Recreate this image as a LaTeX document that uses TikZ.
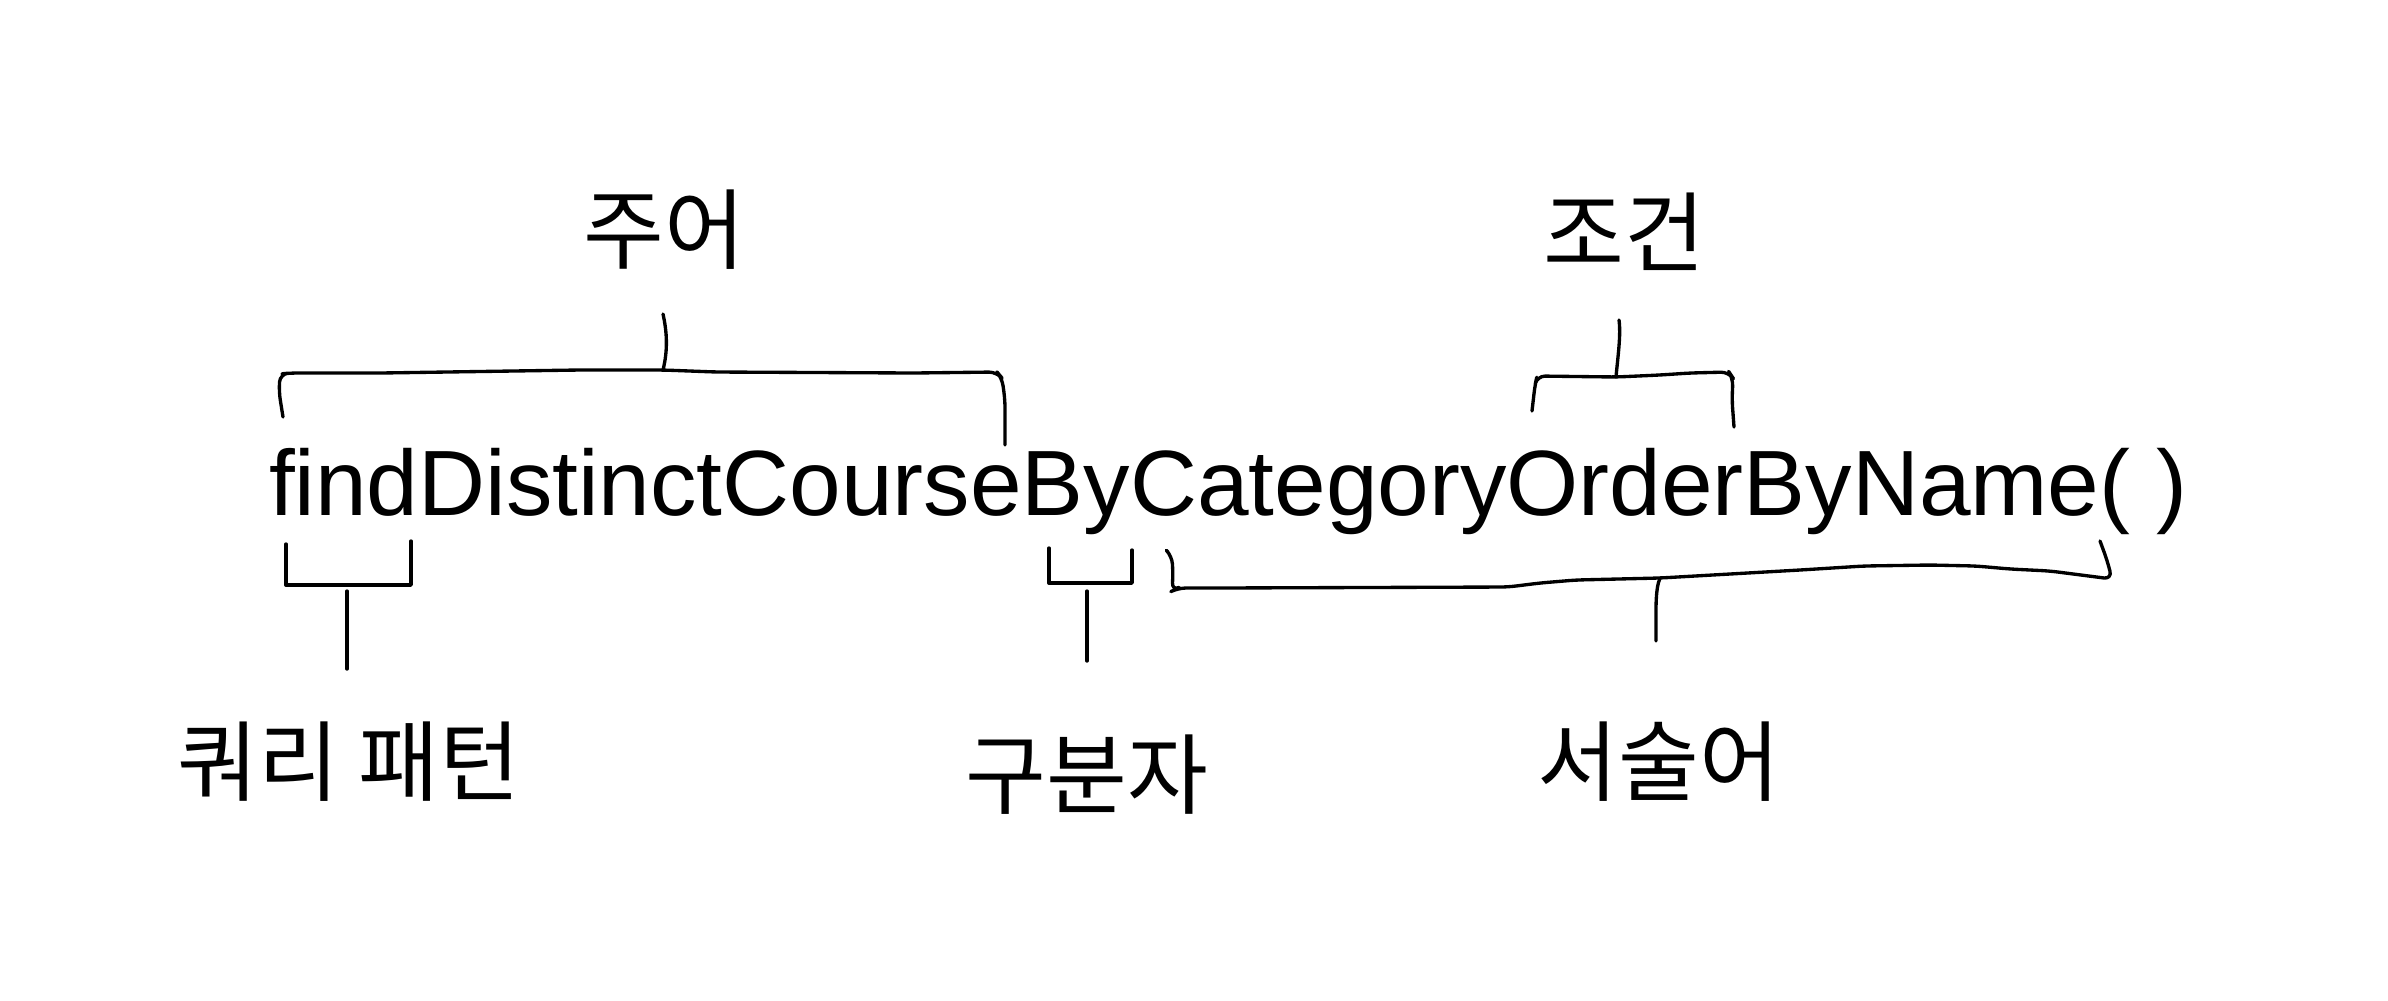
\documentclass[tikz,border=0pt]{standalone}
\usepackage{fontspec}
\setmainfont{Liberation Sans}
\newfontfamily\krfont{Noto Sans CJK KR}
\usetikzlibrary{calc,positioning}

\begin{document}
\begin{tikzpicture}[x=0.1mm,y=-0.1mm,
 word/.style={inner sep=0pt,outer sep=0pt,anchor=base west,
   font=\fontsize{26.4}{30}\selectfont},
 tag/.style={inner sep=0pt,font=\krfont\fontsize{25}{30}\selectfont},
 sketch/.style={draw=black,line width=.95pt,line cap=round,
   line join=round,rounded corners=.8mm},
 stem/.style={draw=black,line width=.95pt,line cap=round}
]
\useasboundingbox (0,0) rectangle (2388,1000);

% the method name, one node per part
\node[word] (find) at (269,515) {find};
\node[word] (distinct) at (find.base east) {DistinctCourse};
\node[word] (by) at (distinct.base east) {By};
\node[word] (category) at (by.base east) {Category};
\node[word] (order) at (category.base east) {Order};
\node[word] (name) at (order.base east) {ByName( )};

% labels
\node[tag] (subject) at (664,230) {주어};
\node[tag] (condition) at (1624,232) {조건};
\node[tag] (pattern) at (349,762) {쿼리 패턴};
\node[tag] (separator) at (1087,775) {구분자};
\node[tag] (predicate) at (1659,762) {서술어};

% brace over the subject
\coordinate (subjectmid) at (663,370);
\coordinate (subjecttip) at (663,314);
\draw[sketch] (283,417) -- (279,392) -- (280,374) -- (290,373)
 -- (381,373) -- (579,370) -- (subjectmid) -- (716,372) -- (914,373)
 -- (997,372) -- (1002,378) -- (1005,400) -- (1005,445);
\draw[stem] (subjectmid) .. controls (668,350) and (667,332) .. (subjecttip);

% brace over the condition
\coordinate (conditionmid) at (1616,377);
\coordinate (conditiontip) at (1619,320);
\draw[sketch] (1532,411) -- (1535,385) -- (1537,376) -- (conditionmid)
 -- (1660,375) -- (1690,373) -- (1729,372) -- (1733,378) -- (1732,400)
 -- (1734,427);
\draw[stem] (conditionmid) .. controls (1618,355) and (1621,335) .. (conditiontip);

% bracket under the query pattern
\coordinate (patternmid) at (347,591);
\coordinate (patterntip) at (347,669);
\draw[sketch,rounded corners=0pt] (286,544) -- (286,585) -- (411,585) -- (411,541);
\draw[stem] (patternmid) -- (patterntip);

% bracket under the separator
\coordinate (separatormid) at (1087,591);
\coordinate (separatortip) at (1087,661);
\draw[sketch,rounded corners=0pt] (1049,548) -- (1049,583) -- (1132,583) -- (1132,550);
\draw[stem] (separatormid) -- (separatortip);

% brace under the predicate
\coordinate (predicatemid) at (1660,578);
\coordinate (predicatetip) at (1656,641);
\draw[sketch] (1168,552) -- (1172,556) -- (1173,575) -- (1172,591)
 -- (1178,588) -- (1218,588) -- (1508,587) -- (1540,583) -- (1576,580)
 -- (predicatemid) -- (1800,570) -- (1864,566) -- (1930,565)
 -- (1976,566) -- (2010,569) -- (2050,571) -- (2112,579)
 -- (2107,560) -- (2100,541);
\draw[stem] (predicatemid) .. controls (1655,590) and (1656,610) .. (predicatetip);
\end{tikzpicture}
\end{document}
